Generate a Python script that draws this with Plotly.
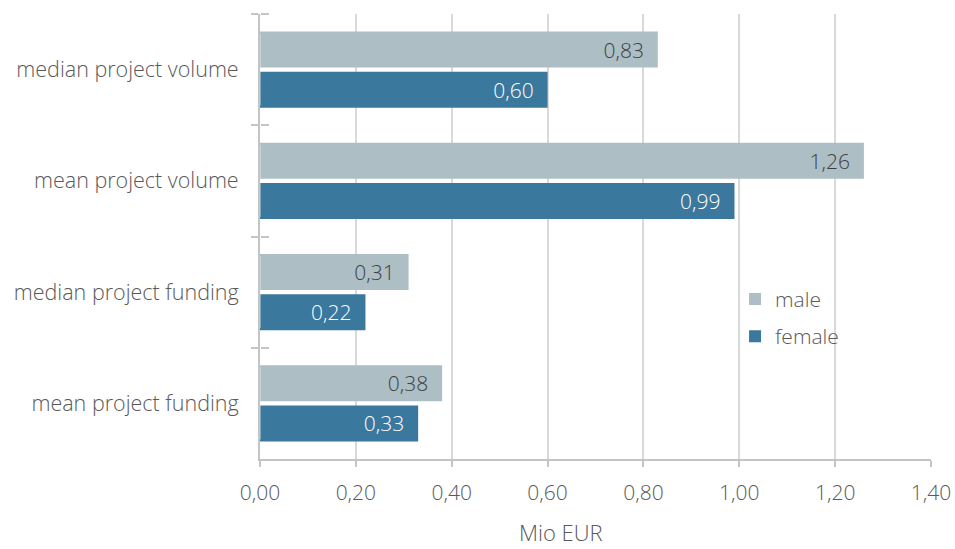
import plotly.graph_objects as go

# Funding metrics by gender (Mio EUR)
categories = ["median project volume", "mean project volume",
              "median project funding", "mean project funding"]
male = [0.83, 1.26, 0.31, 0.38]
female = [0.60, 0.99, 0.22, 0.33]
x_ticks = [0, 0.2, 0.4, 0.6, 0.8, 1.0, 1.2, 1.4]
x_tick_labels = ["0,00", "0,20", "0,40", "0,60", "0,80", "1,00", "1,20", "1,40"]

MALE_COLOR = "#adbfc5"
FEMALE_COLOR = "#3b789d"
TEXT_COLOR = "#595959"
AXIS_COLOR = "#c4c4c4"
FONT = "Open Sans"
SIZE = 21
WEIGHT = 300
PAD = "\u00a0\u00a0"  # keeps value labels clear of the bar end


def fmt(v):
    return f"{v:.2f}".replace(".", ",") + PAD


fig = go.Figure()
fig.add_trace(go.Bar(
    name="male", y=categories, x=male, orientation="h", legendgroup="m",
    marker=dict(color=MALE_COLOR, line=dict(width=0)),
    text=[fmt(v) for v in male], textposition="inside",
    insidetextanchor="end",
    textfont=dict(family=FONT, size=SIZE, weight=WEIGHT, color="#404040"),
))
fig.add_trace(go.Bar(
    name="female", y=categories, x=female, orientation="h", legendgroup="f",
    marker=dict(color=FEMALE_COLOR, line=dict(width=0)),
    text=[fmt(v) for v in female], textposition="inside",
    insidetextanchor="end",
    textfont=dict(family=FONT, size=SIZE, weight=WEIGHT, color="white"),
))
# invisible trace carrying the right-hand half of the crossing tick marks
fig.add_trace(go.Bar(
    y=categories, x=[0] * len(categories), orientation="h",
    xaxis="x", yaxis="y2", showlegend=False, hoverinfo="skip",
    marker=dict(color="rgba(0,0,0,0)"),
))

fig.update_layout(
    width=955, height=549,
    margin=dict(l=260, r=24, t=14, b=90),
    paper_bgcolor="white", plot_bgcolor="white",
    barmode="group", bargap=0.28, bargroupgap=0.1,
    font=dict(family=FONT, size=SIZE, weight=WEIGHT, color=TEXT_COLOR),
    xaxis=dict(
        range=[0, 1.4], tickvals=x_ticks, ticktext=x_tick_labels,
        showgrid=True, gridcolor="#d9d9d9", gridwidth=1.5,
        showline=True, linecolor=AXIS_COLOR, linewidth=2,
        ticks="outside", ticklen=6, tickcolor=AXIS_COLOR, tickwidth=2,
        zeroline=False, ticklabelstandoff=8, automargin=False,
        tickfont=dict(family=FONT, size=SIZE, weight=WEIGHT, color=TEXT_COLOR),
    ),
    yaxis=dict(
        type="category", categoryorder="array", categoryarray=categories,
        autorange="reversed",
        showline=True, linecolor=AXIS_COLOR, linewidth=2,
        ticks="outside", tickson="boundaries", ticklen=7,
        tickcolor=AXIS_COLOR, tickwidth=2,
        showgrid=False, ticklabelstandoff=15, automargin=False,
        tickfont=dict(family=FONT, size=21.5, weight=WEIGHT, color=TEXT_COLOR),
    ),
    yaxis2=dict(
        type="category", categoryorder="array", categoryarray=categories,
        autorange="reversed", overlaying="y", anchor="free", position=0,
        side="right",
        showline=False, showgrid=False, showticklabels=False,
        ticks="outside", tickson="boundaries", ticklen=8,
        tickcolor=AXIS_COLOR, tickwidth=2, automargin=False,
    ),
    legend=dict(
        x=0.708, y=0.405, xanchor="left", yanchor="top",
        traceorder="grouped", tracegroupgap=7, bgcolor="rgba(0,0,0,0)",
        font=dict(family=FONT, size=SIZE, weight=WEIGHT, color=TEXT_COLOR),
        itemwidth=30,
    ),
    annotations=[dict(
        text="Mio EUR", xref="paper", yref="paper",
        x=0.4486, y=-0.163, xanchor="center", yanchor="middle",
        showarrow=False,
        font=dict(family=FONT, size=22, weight=WEIGHT, color=TEXT_COLOR),
    )],
)

fig.write_html("out.html")
